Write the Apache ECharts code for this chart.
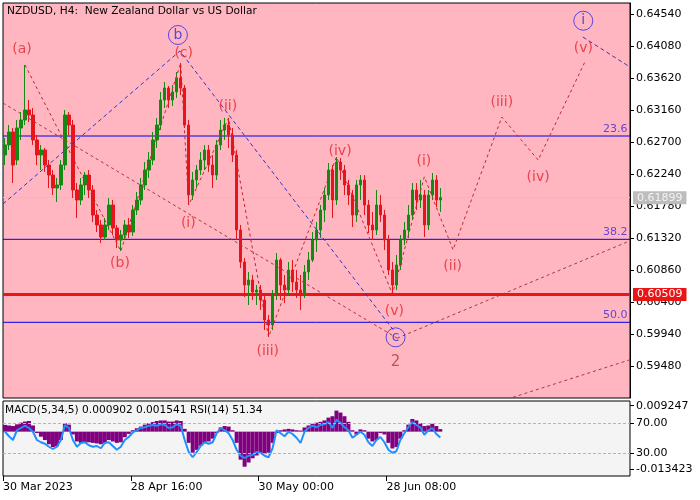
<!DOCTYPE html>
<html><head><meta charset="utf-8">
<script src="https://cdn.jsdelivr.net/npm/echarts@6/dist/echarts.min.js"></script>
<style>html,body{margin:0;padding:0;background:#ffffff}#c{width:700px;height:500px}</style>
</head><body><div id="c"></div>
<script>
// ---------- data ----------
const SLOTS = 157; // bar slots across the chart width (data + projection space)
const priceTicks = [0.64540,0.64080,0.63620,0.63160,0.62700,0.62240,0.61780,0.61320,0.60860,0.60400,0.59940,0.59480];
const timeLabels = ['30 Mar 2023','28 Apr 16:00','30 May 00:00','28 Jun 08:00'];
const timeLabelSlot = [0, 32, 64, 96];

const candleOpen = [
0.62513,0.62657,0.62844,0.62441,0.62901,0.63016,0.63160,0.63088,0.62729,0.62513,
0.62585,0.62369,0.62225,0.62039,0.62082,0.62369,0.63088,0.62944,0.62010,0.61866,
0.62082,0.62225,0.62010,0.61650,0.61507,0.61334,0.61507,0.61794,0.61463,0.61291,
0.61363,0.61507,0.61406,0.61722,0.61866,0.62082,0.62297,0.62441,0.62729,0.62944,
0.63304,0.63476,0.63304,0.63419,0.63620,0.63476,0.62944,0.61938,0.62154,0.62297,
0.62441,0.62585,0.62369,0.62225,0.62657,0.62872,0.62944,0.62800,0.62513,0.61435,
0.60975,0.60644,0.60716,0.60544,0.60572,0.60429,0.60141,0.60069,0.60500,0.61004,
0.60644,0.60572,0.60860,0.60687,0.60572,0.60500,0.60831,0.61004,0.61291,0.61435,
0.61722,0.61938,0.62297,0.61866,0.62412,0.62297,0.62082,0.61938,0.61650,0.62082,
0.62154,0.61794,0.61507,0.61435,0.61794,0.61650,0.61291,0.60860,0.60644,0.60932,
0.61291,0.61435,0.61650,0.62010,0.61866,0.61938,0.61507,0.61938,0.62154,0.61866];
const candleClose = [
0.62657,0.62844,0.62369,0.62901,0.63016,0.63160,0.63088,0.62729,0.62513,0.62585,
0.62369,0.62225,0.62039,0.62082,0.62369,0.63088,0.62944,0.62010,0.61866,0.62082,
0.62225,0.62010,0.61650,0.61507,0.61334,0.61507,0.61794,0.61463,0.61291,0.61363,
0.61507,0.61406,0.61722,0.61866,0.62082,0.62297,0.62441,0.62729,0.62944,0.63304,
0.63476,0.63304,0.63419,0.63620,0.63476,0.62944,0.61938,0.62154,0.62297,0.62441,
0.62585,0.62369,0.62225,0.62657,0.62872,0.62944,0.62800,0.62513,0.61435,0.60975,
0.60644,0.60716,0.60544,0.60572,0.60429,0.60141,0.60069,0.60500,0.61004,0.60644,
0.60572,0.60860,0.60687,0.60572,0.60500,0.60831,0.61004,0.61291,0.61435,0.61722,
0.61938,0.62297,0.61866,0.62412,0.62297,0.62082,0.61938,0.61650,0.62082,0.62154,
0.61794,0.61507,0.61435,0.61794,0.61650,0.61291,0.60860,0.60644,0.60932,0.61291,
0.61435,0.61650,0.62010,0.61866,0.61938,0.61507,0.61938,0.62154,0.61866,0.61899];
const candleLow = [
0.62369,0.62585,0.62110,0.62369,0.62729,0.62944,0.62987,0.62657,0.62369,0.62297,
0.62269,0.62039,0.61938,0.61837,0.62010,0.62297,0.62800,0.61895,0.61607,0.61794,
0.61938,0.61895,0.61550,0.61406,0.61248,0.61291,0.61435,0.61363,0.61176,0.61133,
0.61291,0.61320,0.61349,0.61650,0.61794,0.62010,0.62182,0.62369,0.62614,0.62872,
0.63189,0.63189,0.63217,0.63332,0.63375,0.62901,0.61794,0.61866,0.62039,0.62225,
0.62297,0.62269,0.62039,0.62154,0.62585,0.62729,0.62614,0.62412,0.61291,0.60889,
0.60472,0.60357,0.60429,0.60357,0.60285,0.59997,0.59897,0.59997,0.60429,0.60429,
0.60385,0.60500,0.60544,0.60457,0.60285,0.60457,0.60716,0.60975,0.61119,0.61320,
0.61550,0.61866,0.61607,0.61794,0.62154,0.61938,0.61794,0.61478,0.61550,0.61866,
0.61650,0.61392,0.61291,0.61363,0.61550,0.61147,0.60788,0.60515,0.60572,0.60860,
0.61219,0.61320,0.61579,0.61722,0.61751,0.61334,0.61435,0.61866,0.61765,0.61694];
const candleHigh = [
0.62757,0.62944,0.62901,0.63016,0.63131,0.63807,0.63304,0.63189,0.62800,0.62657,
0.62614,0.62441,0.62297,0.62182,0.62441,0.63160,0.63131,0.63016,0.62110,0.62182,
0.62269,0.62297,0.62082,0.61722,0.61579,0.61607,0.61895,0.61866,0.61507,0.61435,
0.61579,0.61607,0.61794,0.61981,0.62182,0.62412,0.62556,0.62844,0.63045,0.63419,
0.63562,0.63505,0.63519,0.63706,0.63835,0.63519,0.63016,0.62269,0.62369,0.62556,
0.62657,0.62657,0.62513,0.62729,0.63016,0.63045,0.63045,0.62901,0.62585,0.61507,
0.61032,0.60831,0.60788,0.60644,0.60644,0.60500,0.60213,0.60572,0.61104,0.61032,
0.60788,0.60975,0.61004,0.60860,0.60788,0.60932,0.61119,0.61406,0.61550,0.61794,
0.62039,0.62398,0.62369,0.62484,0.62470,0.62369,0.62154,0.62010,0.62154,0.62225,
0.62225,0.61866,0.61694,0.62010,0.61938,0.61722,0.61363,0.60975,0.61075,0.61363,
0.61550,0.61794,0.62110,0.62110,0.62154,0.62010,0.62010,0.62254,0.62225,0.62039];

const fibLevels = [0.62786, 0.61301, 0.60108];
const fibNames = ['23.6', '38.2', '50.0'];
const supportLevel = 0.60509;
const lastPrice = 0.61899;

// Elliott wave paths (slot position, price)
const minorWaveX = [5, 29, 44, 46, 56, 66, 83, 97, 105, 112.2, 124.4, 133.5, 145.2];
const minorWaveY = [0.63807, 0.61133, 0.63835, 0.61794, 0.63045, 0.59897, 0.62484, 0.60515, 0.62200, 0.61150, 0.63059, 0.62441, 0.63850];
const majorWave1X = [-0.5, 98.2];
const majorWave1Y = [0.63260, 0.59880];
const majorWave2X = [98.2, 156.5];
const majorWave2Y = [0.59880, 0.61280];
const majorWave3X = [127.2, 156.5];
const majorWave3Y = [0.59030, 0.59570];
const blueWaveX = [-0.5, 43.8, 97.2];
const blueWaveY = [0.61809, 0.64008, 0.60000];
const blueWave2X = [144.7, 156.5];
const blueWave2Y = [0.64209, 0.63778];

const labelText = ['(a)','b','(c)','(ii)','(i)','(b)','(iii)','(iv)','(v)','c','2','(i)','(ii)','(iii)','(iv)','(v)','i'];
const labelX = [4.26, 43.3, 44.75, 55.8, 45.9, 28.8, 65.8, 83.9, 97.5, 97.8, 97.8, 104.9, 112.1, 124.4, 133.5, 144.8, 144.8];
const labelY = [0.64037, 0.64238, 0.63975, 0.63217, 0.61531, 0.60956, 0.59685, 0.62560, 0.60260, 0.59892, 0.59542, 0.62417, 0.60907, 0.63265, 0.62193, 0.64047, 0.64443];
const labelKind = ['minor','circle','minor','minor','minor','minor','minor','minor','minor','circle','major','minor','minor','minor','minor','minor','circle'];

const macdHist = [
0.0024,0.0022,0.0020,0.0026,0.0032,0.0036,0.0038,0.0022,-0.0005,-0.0018,
-0.0030,-0.0045,-0.0055,-0.0052,-0.0030,0.0030,0.0025,-0.0010,-0.0035,-0.0040,
-0.0040,-0.0038,-0.0040,-0.0042,-0.0045,-0.0040,-0.0030,-0.0035,-0.0040,-0.0038,
-0.0020,-0.0008,0.0005,0.0012,0.0018,0.0025,0.0030,0.0034,0.0038,0.0040,
0.0040,0.0036,0.0036,0.0040,0.0038,0.0010,-0.0040,-0.0075,-0.0065,-0.0050,
-0.0040,-0.0035,-0.0025,-0.0005,0.0015,0.0020,0.0018,0.0005,-0.0040,-0.0100,
-0.0125,-0.0110,-0.0095,-0.0085,-0.0080,-0.0080,-0.0075,-0.0040,-0.0005,0.0005,
0.0008,0.0010,0.0008,0.0005,0.0004,0.0015,0.0022,0.0028,0.0032,0.0035,
0.0040,0.0050,0.0055,0.0075,0.0068,0.0055,0.0035,0.0005,-0.0010,0.0008,
0.0005,-0.0025,-0.0035,-0.0030,-0.0005,-0.0010,-0.0040,-0.0060,-0.0055,-0.0025,
0.0005,0.0025,0.0045,0.0040,0.0030,0.0020,0.0022,0.0028,0.0020,0.0009];
const rsiValues = [
59,53,48,61,64,67,64,59,48,45,
43,39,36,39,48,68,64,48,39,44,
45,41,39,40,37,44,45,40,35,39,
48,52,58,61,64,65,67,68,67,69,
68,64,65,69,67,48,32,25,32,40,
45,43,45,57,64,61,57,48,35,27,
24,27,28,32,31,27,25,37,61,57,
53,59,56,51,44,59,64,67,65,68,
69,72,64,75,71,65,61,51,55,59,
55,45,40,48,52,45,35,31,33,48,
57,65,72,68,65,55,61,64,56,51.34];
const macdTicks = [0.009247, -0.013423];
const rsiTicks = [70, 30];
const rsiGuides = [70, 30];

// ---------- chart ----------
const FONT = 'DejaVu Sans';
const slots = Array.from({length: SLOTS}, (_, i) => i);
const candles = candleOpen.map((o, i) => [o, candleClose[i], candleLow[i], candleHigh[i]]);
const pairs = (xs, ys) => xs.map((x, i) => [x, ys[i]]);
const lbl = kind => labelText.map((t, i) => [labelX[i], labelY[i], t, labelKind[i]]).filter(d => d[3] === kind);
const X0 = -0.5, X1 = SLOTS - 0.5;

const waveLine = (xs, ys, color, type, name) => ({
  type: 'line', name, xAxisIndex: 1, yAxisIndex: 0, data: pairs(xs, ys),
  showSymbol: false, symbol: 'none', silent: true, z: 3,
  lineStyle: {color, width: 1, type}
});
const fibLine = (v, i) => ({
  type: 'line', name: 'fib' + fibNames[i], xAxisIndex: 1, yAxisIndex: 0, data: [[X0, v], [X1, v]],
  showSymbol: false, symbol: 'none', silent: true, z: 1,
  lineStyle: {color: '#0000F0', width: 1, type: 'solid'}
});
const yAxisBase = (gridIndex, min, max, ticks, digits, showLine) => ({
  type: 'value', gridIndex, position: 'right', min, max,
  axisLine: {show: showLine, onZero: false, lineStyle: {color: '#000'}}, splitLine: {show: false},
  axisTick: {show: true, customValues: ticks, length: 4, lineStyle: {color: '#000'}},
  axisLabel: {show: true, customValues: ticks, formatter: v => v.toFixed(digits), margin: 6, color: '#000', fontFamily: FONT, fontSize: 11}
});

const chart = echarts.init(document.getElementById('c'), null, {renderer: 'canvas'});
chart.setOption({
  animation: false,
  backgroundColor: '#ffffff',
  textStyle: {fontFamily: FONT},
  title: [
    {text: 'NZDUSD, H4:  New Zealand Dollar vs US Dollar', left: 7, top: 6, padding: 0,
     textStyle: {fontFamily: FONT, fontSize: 10.6, fontWeight: 'normal', color: '#000'}},
    {text: 'MACD(5,34,5) 0.000902 0.001541 RSI(14) 51.34', left: 5, top: 405, padding: 0,
     textStyle: {fontFamily: FONT, fontSize: 10.6, fontWeight: 'normal', color: '#000'}}
  ],
  grid: [
    {left: 3, top: 3, width: 627, height: 395, show: true, backgroundColor: '#FFB6C1', borderColor: '#000', borderWidth: 1},
    {left: 3, top: 401, width: 627, height: 75, show: true, backgroundColor: '#F4F4F4', borderColor: '#000', borderWidth: 1}
  ],
  xAxis: [
    {type: 'category', gridIndex: 0, data: slots, boundaryGap: true, show: false, axisLine: {onZero: false}},
    {type: 'value', gridIndex: 0, min: X0, max: X1, show: false, axisLine: {onZero: false}},
    {type: 'category', gridIndex: 1, data: slots, boundaryGap: true, show: false, axisLine: {onZero: false}},
    {type: 'value', gridIndex: 1, min: X0, max: X1, position: 'bottom',
     axisLine: {show: false, onZero: false}, splitLine: {show: false},
     axisTick: {show: true, customValues: timeLabelSlot.map(s => s - 0.5), length: 5, lineStyle: {color: '#000'}},
     axisLabel: {show: true, customValues: timeLabelSlot.map(s => s - 0.5), showMinLabel: true, showMaxLabel: true,
       formatter: v => timeLabels[timeLabelSlot.indexOf(Math.round(v + 0.5))] || '',
       align: 'left', margin: 6, color: '#000', fontFamily: FONT, fontSize: 11}}
  ],
  yAxis: [
    yAxisBase(0, 0.59020, 0.64698, priceTicks, 5, true),
    yAxisBase(1, -0.015811, 0.010922, macdTicks, 6, false),
    yAxisBase(1, 0, 100, rsiTicks, 2, false)
  ],
  series: [
    ...fibLevels.map(fibLine),
    {type: 'scatter', name: 'fibLabels', xAxisIndex: 1, yAxisIndex: 0, data: fibLevels.map((v, i) => [X1, v, fibNames[i]]),
     symbolSize: 1, silent: true, z: 4, itemStyle: {color: 'rgba(0,0,0,0)'},
     label: {show: true, position: 'left', distance: 2, offset: [0, -7], formatter: p => p.data[2], color: '#3C28DC', fontFamily: FONT, fontSize: 11}},
    {type: 'candlestick', name: 'NZDUSD', xAxisIndex: 0, yAxisIndex: 0, data: candles, barWidth: 3, z: 2,
     itemStyle: {color: '#138A13', color0: '#E8141B', borderColor: '#138A13', borderColor0: '#E8141B', borderWidth: 1}},
    {type: 'line', name: 'levels', xAxisIndex: 1, yAxisIndex: 0, data: [[X0, lastPrice]], symbol: 'none', silent: true, z: 1,
     lineStyle: {width: 0},
     markLine: {
       symbol: ['none', 'none'], silent: true, animation: false, z: 1, precision: 6,
       data: [
         {yAxis: lastPrice, lineStyle: {color: '#C8C8C8', width: 1, type: 'solid'},
          label: {show: true, position: 'end', distance: 3, formatter: lastPrice.toFixed(5), color: '#F2F2F2', backgroundColor: '#BDBDBD', padding: [1, 4, 1, 4], fontFamily: FONT, fontSize: 11}},
         {yAxis: supportLevel, lineStyle: {color: '#E81616', width: 3, type: 'solid'},
          label: {show: true, position: 'end', distance: 3, formatter: supportLevel.toFixed(5), color: '#FFFFFF', backgroundColor: '#E81616', padding: [1, 4, 1, 4], fontFamily: FONT, fontSize: 11}}
       ]
     }},
    waveLine(majorWave1X, majorWave1Y, '#A8383C', [3, 3], 'major1'),
    waveLine(majorWave2X, majorWave2Y, '#A8383C', [3, 3], 'major2'),
    waveLine(majorWave3X, majorWave3Y, '#A8383C', [3, 3], 'major3'),
    waveLine(blueWaveX, blueWaveY, '#3434C8', [4, 3], 'blue1'),
    waveLine(blueWave2X, blueWave2Y, '#3434C8', [4, 3], 'blue2'),
    waveLine(minorWaveX, minorWaveY, '#C0282E', [3, 3], 'minor'),
    {type: 'scatter', name: 'minorLabels', xAxisIndex: 1, yAxisIndex: 0, data: lbl('minor'), symbolSize: 1, silent: true, z: 5,
     itemStyle: {color: 'rgba(0,0,0,0)'},
     label: {show: true, position: 'inside', formatter: p => p.data[2], color: '#E5262C', fontFamily: FONT, fontSize: 14}},
    {type: 'scatter', name: 'majorLabels', xAxisIndex: 1, yAxisIndex: 0, data: lbl('major'), symbolSize: 1, silent: true, z: 5,
     itemStyle: {color: 'rgba(0,0,0,0)'},
     label: {show: true, position: 'inside', formatter: p => p.data[2], color: '#A83C3C', fontFamily: FONT, fontSize: 15}},
    {type: 'scatter', name: 'circleLabels', xAxisIndex: 1, yAxisIndex: 0, data: lbl('circle'), symbol: 'circle', symbolSize: 19, silent: true, z: 5,
     itemStyle: {color: 'rgba(0,0,0,0)', borderColor: '#2A2AE6', borderWidth: 1},
     label: {show: true, position: 'inside', formatter: p => p.data[2], color: '#2A2AE6', fontFamily: FONT, fontSize: 14}},
    {type: 'bar', name: 'MACD', xAxisIndex: 2, yAxisIndex: 1, data: macdHist, barCategoryGap: '0%', barWidth: '100%',
     itemStyle: {color: '#800080'}, silent: true},
    {type: 'line', name: 'RSI', xAxisIndex: 2, yAxisIndex: 2, data: rsiValues, showSymbol: false, symbol: 'none', silent: true,
     lineStyle: {color: '#1E90FF', width: 2},
     markLine: {symbol: ['none', 'none'], silent: true, label: {show: false}, precision: 2,
       lineStyle: {color: '#B4B4B4', type: [3, 2], width: 1},
       data: rsiGuides.map(v => ({yAxis: v}))}}
  ]
});
</script></body></html>
